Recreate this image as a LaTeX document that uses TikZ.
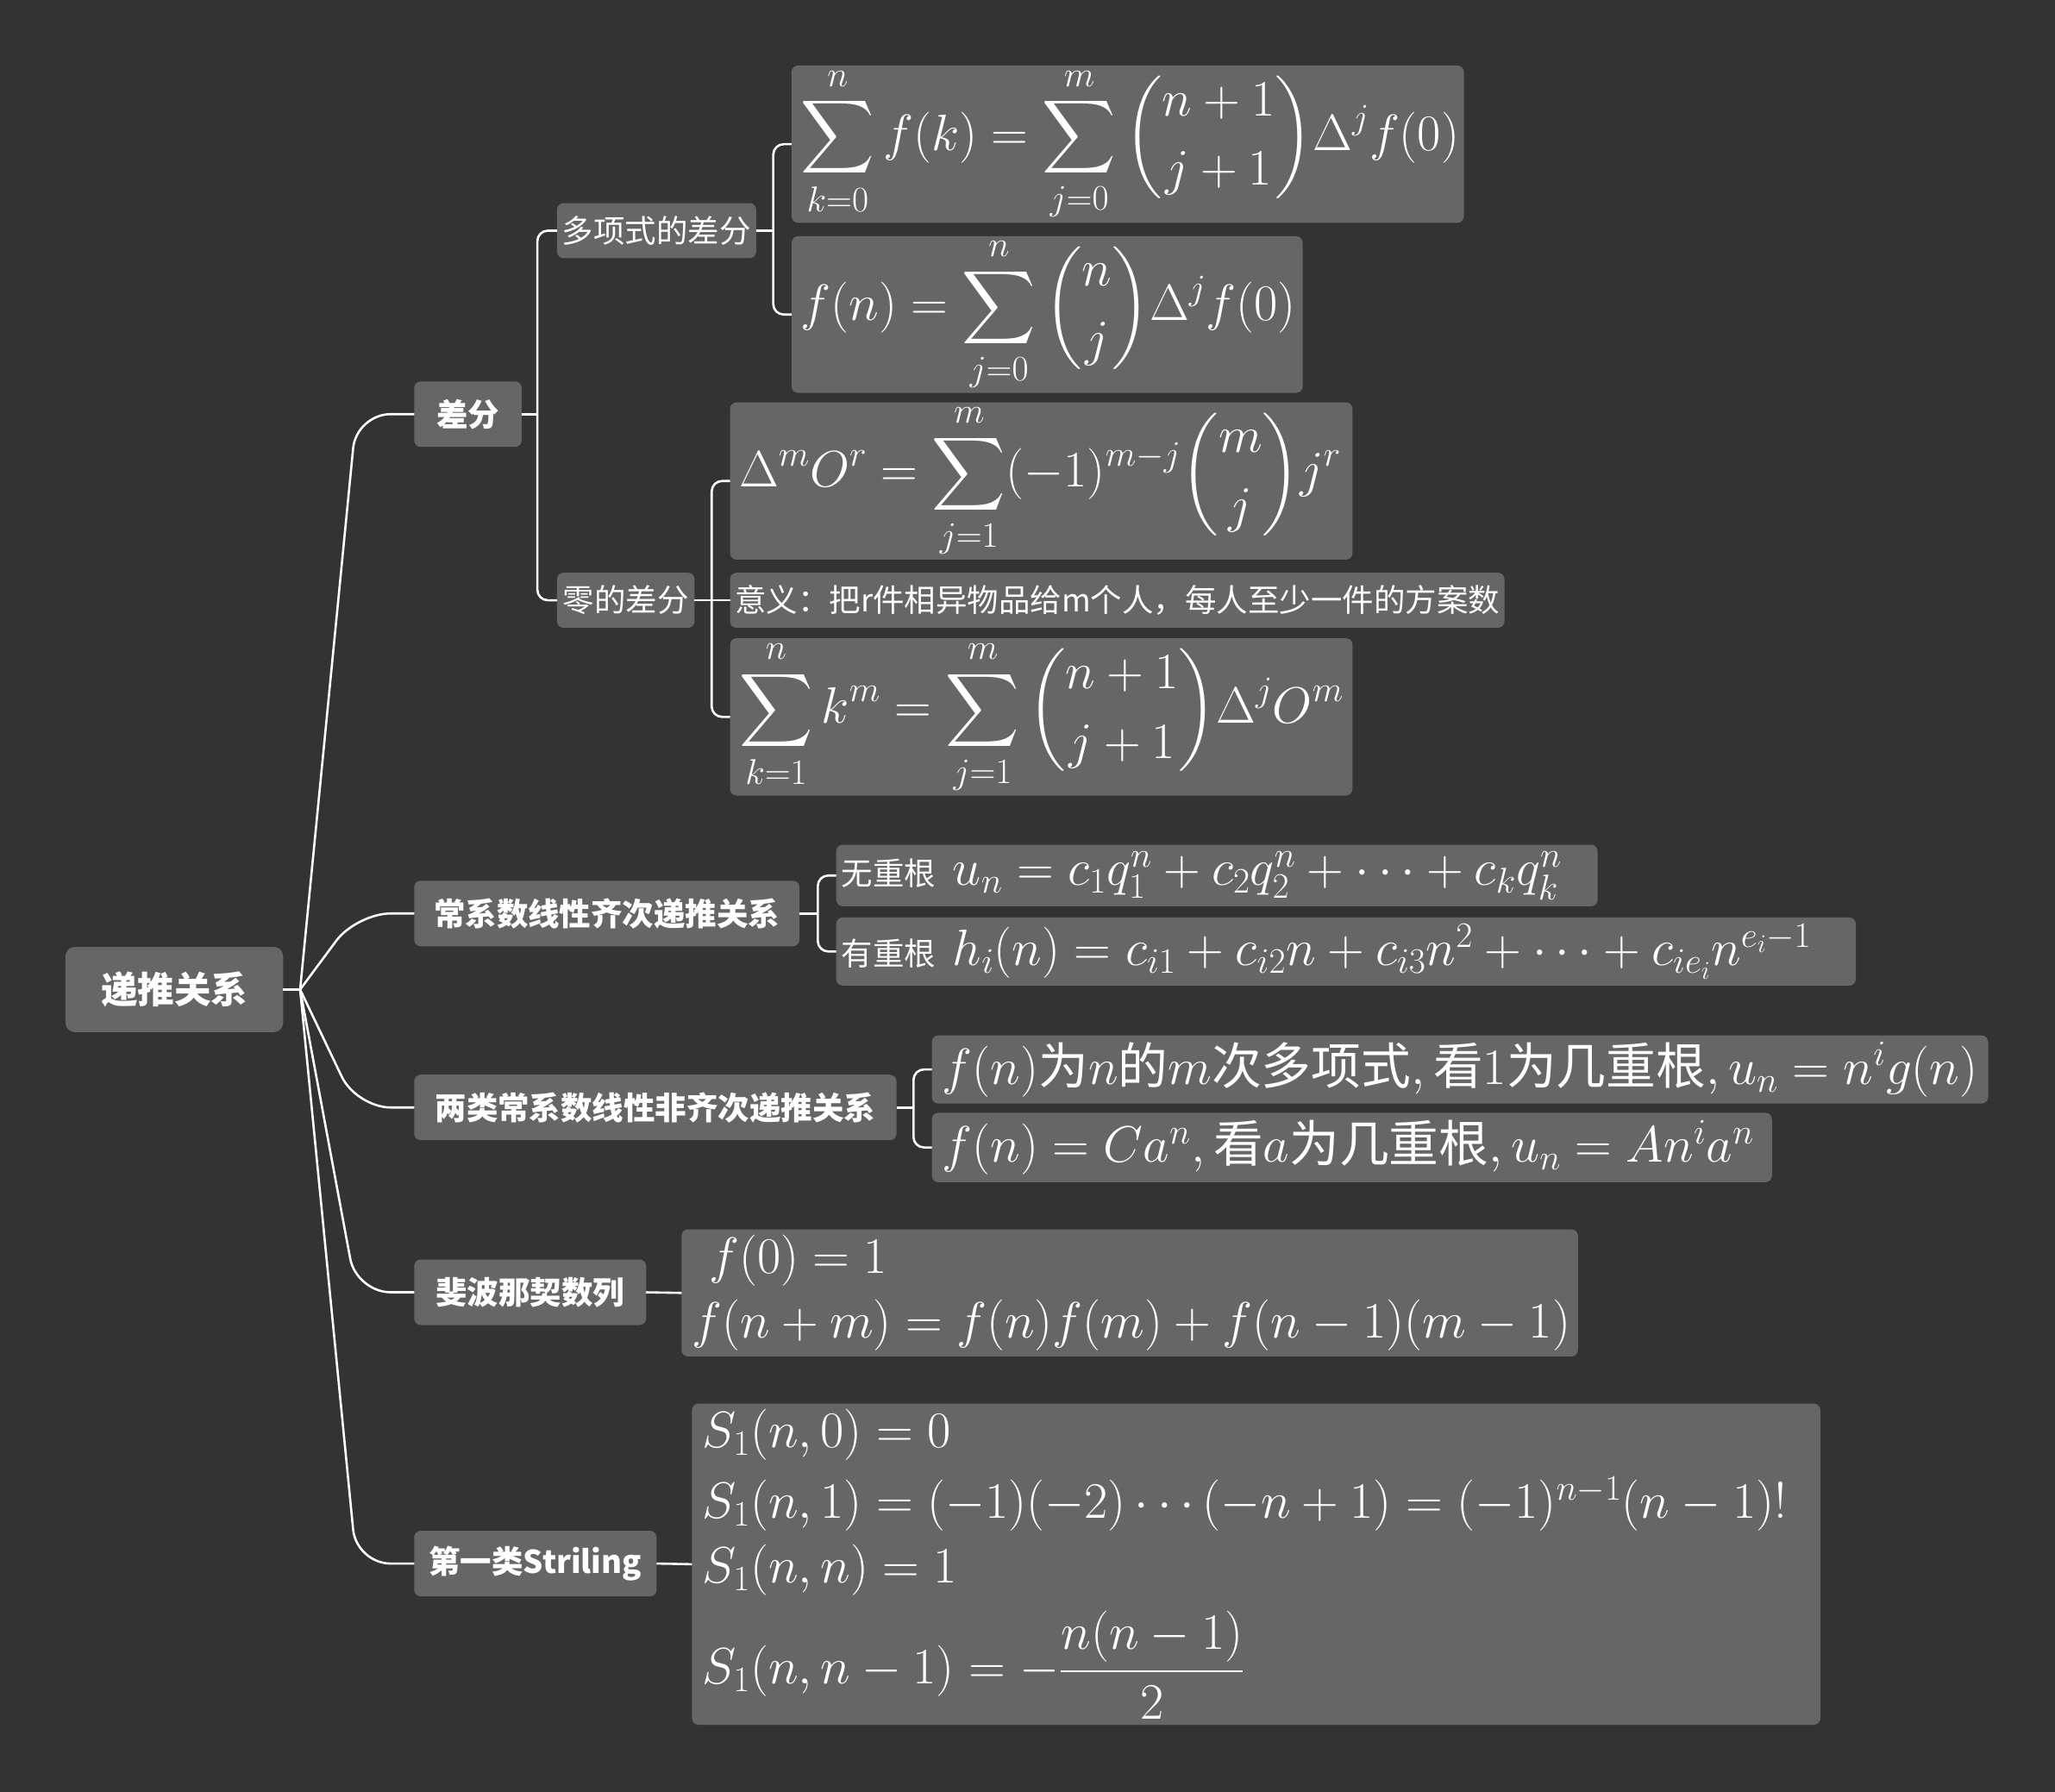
\RequirePackage{fix-cm}
\documentclass[tikz,border=0pt]{standalone}
\usepackage{amsmath}
\DeclareFontShape{OMX}{cmex}{m}{n}{<-7.5>cmex7<7.5-8.5>cmex8<8.5-9.5>cmex9<9.5->cmex10}{}
\usepackage[no-math]{fontspec}
\newfontfamily\cjk{Noto Sans CJK SC}
\definecolor{bg}{HTML}{333333}
\definecolor{boxc}{HTML}{666666}
\newcommand\zh[1]{\text{\cjk\fontsize{38}{40}\selectfont #1}}
\begin{document}
\begin{tikzpicture}[x=1pt,y=-1pt,
  every node/.style={text=white, inner sep=0pt, outer sep=0pt},
  basebox/.style={fill=boxc, rounded corners=5pt, anchor=west},
  rootbox/.style={basebox, rounded corners=7pt, font=\cjk\bfseries\fontsize{28}{34}\selectfont},
  lvone/.style={basebox, font=\cjk\bfseries\fontsize{24}{29}\selectfont, minimum height=50pt},
  lvtwo/.style={basebox, font=\cjk\fontsize{24}{29}\selectfont, minimum height=42pt},
  mathbox/.style={basebox, align=left, inner xsep=7pt, font=\fontsize{39}{49}\selectfont},
  conn/.style={draw=white, line width=1.7pt},
  rootconn/.style={conn, rounded corners=26pt},
  spine/.style={conn, rounded corners=8pt}]
\fill[bg] (0,0) rectangle (1568,1367);
\useasboundingbox (0,0) rectangle (1568,1367);

% root and first level
\node[rootbox, minimum width=166pt, minimum height=65pt] (root) at (50,755) {递推关系};
\node[lvone, minimum width=82pt] (cf) at (316,316) {差分};
\node[lvone, minimum width=294pt] (cx) at (316,697) {常系数线性齐次递推关系};
\node[lvone, minimum width=368pt] (fq) at (316,845) {两类常系数线性非齐次递推关系};
\node[lvone, minimum width=177pt] (fb) at (316,986) {斐波那契数列};
\node[lvone, minimum width=185pt] (st) at (316,1193) {第一类Striling};

% second level under 差分
\node[lvtwo, minimum width=152pt] (dx) at (425,176) {多项式的差分};
\node[lvtwo, minimum width=105pt] (ld) at (425,458) {零的差分};

% formulas
\node[mathbox, text width=499pt, minimum height=120pt] (f1) at (604,110)
  {\mbox{$\displaystyle\sum_{k=0}^{n} f(k) = \sum_{j=0}^{m}\binom{n+1}{j+1}\Delta^j f(0)$}};
\node[mathbox, text width=376pt, minimum height=119pt] (f2) at (604,240)
  {\mbox{$\displaystyle f(n) = \sum_{j=0}^{n}\binom{n}{j}\Delta^j f(0)$}};
\node[mathbox, text width=461pt, minimum height=120pt] (z1) at (557,367)
  {\mbox{$\displaystyle\Delta^m O^r = \sum_{j=1}^{m}(-1)^{m-j}\binom{m}{j} j^r$}};
\node[lvtwo, minimum width=591pt] (z2) at (557,458) {意义：把r件相异物品给m个人，每人至少一件的方案数};
\node[mathbox, text width=461pt, minimum height=120pt] (z3) at (557,547)
  {\mbox{$\displaystyle\sum_{k=1}^{n}k^m = \sum_{j=1}^{m}\binom{n+1}{j+1}\Delta^j O^m$}};

\node[mathbox, inner xsep=4pt, text width=573pt, minimum height=47pt] (c1) at (638,668)
  {\mbox{{\cjk\fontsize{24}{29}\selectfont 无重根} $u_n = c_1q_1^n + c_2q_2^n + \cdots + c_kq_k^n$}};
\node[mathbox, inner xsep=4pt, text width=770pt, minimum height=52pt] (c2) at (638,726)
  {\mbox{{\cjk\fontsize{24}{29}\selectfont 有重根} $h_i(n) = c_{i1} + c_{i2}n + c_{i3}n^2 + \cdots + c_{ie_i}n^{e_i-1}$}};

\node[mathbox, inner xsep=8pt, text width=790pt, minimum height=52pt] (n1) at (711,816)
  {\mbox{$f(n)\zh{为}n\zh{的}m\zh{次多项式},\zh{看}1\zh{为几重根},u_n = n^i g(n)$}};
\node[mathbox, inner xsep=8pt, text width=625pt, minimum height=53pt] (n2) at (711,875.5)
  {\mbox{$f(n) = Ca^n,\zh{看}a\zh{为几重根},u_n = An^ia^n$}};

\node[mathbox, inner xsep=8pt, text width=668pt, minimum height=97pt] (fbm) at (520,986.5)
  {\mbox{$\ f(0)=1$}\\\mbox{$f(n+m)=f(n)f(m)+f(n-1)(m-1)$}};
\node[mathbox, inner xsep=8pt, text width=845pt, minimum height=245pt] (stm) at (528,1193.5)
  {\mbox{$S_1(n,0)=0$}\\[5pt]
   \mbox{$S_1(n,1)=(-1)(-2)\cdots(-n+1)=(-1)^{n-1}(n-1)!$}\\
   \mbox{$S_1(n,n)=1$}\\[11pt]
   \mbox{$S_1(n,n-1)=-\dfrac{n(n-1)}{2}$}};

% connectors from root
\coordinate (j0) at ([xshift=13pt]root.east);
\draw[conn] (root.east) -- (j0);
\foreach \c in {cf,cx,fq,fb,st}
  \draw[rootconn] (j0) -- ([xshift=-44pt]\c.west) -- (\c.west);

% 差分
\coordinate (j1) at ([xshift=12pt]cf.east);
\draw[conn] (cf.east) -- (j1);
\draw[spine] (j1) |- (dx.west);
\draw[spine] (j1) |- (ld.west);

% 多项式的差分
\coordinate (j2) at ([xshift=13pt]dx.east);
\draw[conn] (dx.east) -- (j2);
\draw[spine] (j2) |- (f1.west);
\draw[spine] (j2) |- (f2.west);

% 零的差分
\coordinate (j3) at ([xshift=13pt]ld.east);
\draw[conn] (ld.east) -- (z2.west);
\draw[spine] (j3) |- (z1.west);
\draw[spine] (j3) |- (z3.west);

% 常系数
\coordinate (j4) at ([xshift=14pt]cx.east);
\draw[conn] (cx.east) -- (j4);
\draw[spine] (j4) |- (c1.west);
\draw[spine] (j4) |- (c2.west);

% 两类
\coordinate (j5) at ([xshift=13pt]fq.east);
\draw[conn] (fq.east) -- (j5);
\draw[spine] (j5) |- (n1.west);
\draw[spine] (j5) |- (n2.west);

% 斐波那契, Stirling
\draw[conn] (fb.east) -- (fbm.west);
\draw[conn] (st.east) -- (stm.west);
\end{tikzpicture}
\end{document}
